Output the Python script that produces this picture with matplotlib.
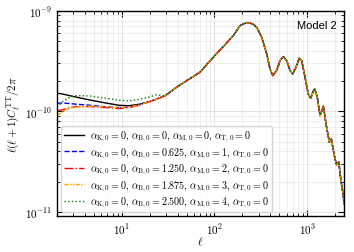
import numpy as np
import matplotlib
matplotlib.use("Agg")
import matplotlib.pyplot as plt
from matplotlib.ticker import LogLocator, FuncFormatter, NullFormatter

plt.rcParams['mathtext.fontset'] = 'cm'
plt.rcParams['font.family'] = ['DejaVu Serif']

# multipoles where the five models differ (low ell)
ell_low = [2, 2.3, 2.7, 3.2, 4.5, 6.8, 9.4, 12, 15.5, 19.8, 23.4]
# D_ell (x1e-10) for each model at ell_low
d_black = [1.52, 1.49, 1.44, 1.39, 1.30, 1.21, 1.15, 1.14, 1.18, 1.25, 1.32]
d_blue = [1.21, 1.21, 1.20, 1.18, 1.153, 1.109, 1.092, 1.109, 1.161, 1.25, 1.32]
d_red = [1.01, 1.04, 1.085, 1.117, 1.117, 1.092, 1.067, 1.092, 1.153, 1.25, 1.32]
d_orange = [0.91, 0.996, 1.077, 1.109, 1.127, 1.109, 1.092, 1.109, 1.161, 1.25, 1.32]
d_green = [1.10, 1.252, 1.371, 1.436, 1.426, 1.352, 1.291, 1.271, 1.321, 1.393, 1.459]

# common high-ell part (x1e-10)
ell_high = [29.3, 39.4, 51.7, 69.8, 97, 123.6, 159.6, 188.4, 210, 235.6, 260, 285,
            323, 366, 397, 425, 469, 509, 553, 601, 653, 698, 757, 822, 873,
            947, 1028, 1092, 1165, 1206, 1286, 1375, 1496, 1596, 1733, 1821,
            1946, 2071, 2188, 2317, 2453, 2500]
d_high = [1.43, 1.75, 2.06, 2.455, 3.46, 4.39, 5.67, 7.14, 7.5, 7.60, 7.4, 6.89,
          5.47, 3.73, 2.65, 2.27, 2.55, 3.20, 3.51, 3.20, 2.55, 2.36, 2.75, 3.38, 3.20,
          2.19, 1.49, 1.35, 1.61, 1.675, 1.38, 0.908, 1.127, 0.752, 0.494, 0.532,
          0.378, 0.294, 0.315, 0.203, 0.145, 0.12]

labels = [
    r'$\alpha_{\mathrm{K},0}=0,\,\alpha_{\mathrm{B},0}=0,\,\alpha_{\mathrm{M},0}=0,\,\alpha_{\mathrm{T},0}=0$',
    r'$\alpha_{\mathrm{K},0}=0,\,\alpha_{\mathrm{B},0}=0.625,\,\alpha_{\mathrm{M},0}=1,\,\alpha_{\mathrm{T},0}=0$',
    r'$\alpha_{\mathrm{K},0}=0,\,\alpha_{\mathrm{B},0}=1.250,\,\alpha_{\mathrm{M},0}=2,\,\alpha_{\mathrm{T},0}=0$',
    r'$\alpha_{\mathrm{K},0}=0,\,\alpha_{\mathrm{B},0}=1.875,\,\alpha_{\mathrm{M},0}=3,\,\alpha_{\mathrm{T},0}=0$',
    r'$\alpha_{\mathrm{K},0}=0,\,\alpha_{\mathrm{B},0}=2.500,\,\alpha_{\mathrm{M},0}=4,\,\alpha_{\mathrm{T},0}=0$',
]
series = [d_black, d_blue, d_red, d_orange, d_green]
colors = ['black', 'blue', 'red', 'orange', 'green']
styles = ['-', '--', '-.', (0, (3, 1, 1, 1, 1, 1)), ':']

fig = plt.figure(figsize=(3.54, 2.53), dpi=100)
ax = fig.add_axes([0.161, 0.142, 0.811, 0.811])

ell = np.array(ell_low + ell_high)
for d, c, ls, lab in zip(series, colors, styles, labels):
    y = np.array(d + d_high) * 1e-10
    ax.plot(ell, y, color=c, ls=ls, lw=1.0, label=lab)

ax.set_xscale('log')
ax.set_yscale('log')
ax.set_xlim(2, 2500)
ax.set_ylim(9.1e-12, 1e-9)

fmt = FuncFormatter(lambda v, _: r'$10^{%d}$' % int(round(np.log10(v))))
for axis in (ax.xaxis, ax.yaxis):
    axis.set_major_locator(LogLocator(base=10, numticks=10))
    axis.set_minor_locator(LogLocator(base=10, subs=np.arange(2, 10), numticks=20))
    axis.set_major_formatter(fmt)
    axis.set_minor_formatter(NullFormatter())

ax.tick_params(which='both', direction='in', top=True, right=True, labelsize=8)
ax.tick_params(which='major', length=4, width=0.8)
ax.tick_params(which='minor', length=2, width=0.6)
ax.grid(True, which='major', color='#dcdcdc', lw=0.6)
ax.grid(True, which='minor', color='#e8e8e8', lw=0.5)
ax.set_axisbelow(True)
for s in ax.spines.values():
    s.set_linewidth(1.0)

ax.set_xlabel(r'$\ell$', fontsize=8, labelpad=-1)
ax.set_ylabel(r'$\ell(\ell+1)C_\ell^{\mathrm{TT}}/2\pi$', fontsize=8, labelpad=2)
ax.text(0.975, 0.93, 'Model 2', transform=ax.transAxes, ha='right', va='center',
        fontsize=8, family='Liberation Sans')

ax.legend(loc='lower left', fontsize=7.2, handlelength=2.0, labelspacing=0.22,
          borderpad=0.3, handletextpad=0.6, framealpha=0.8, edgecolor='#cccccc',
          borderaxespad=0.4)

fig.savefig('out.png', dpi=100)
